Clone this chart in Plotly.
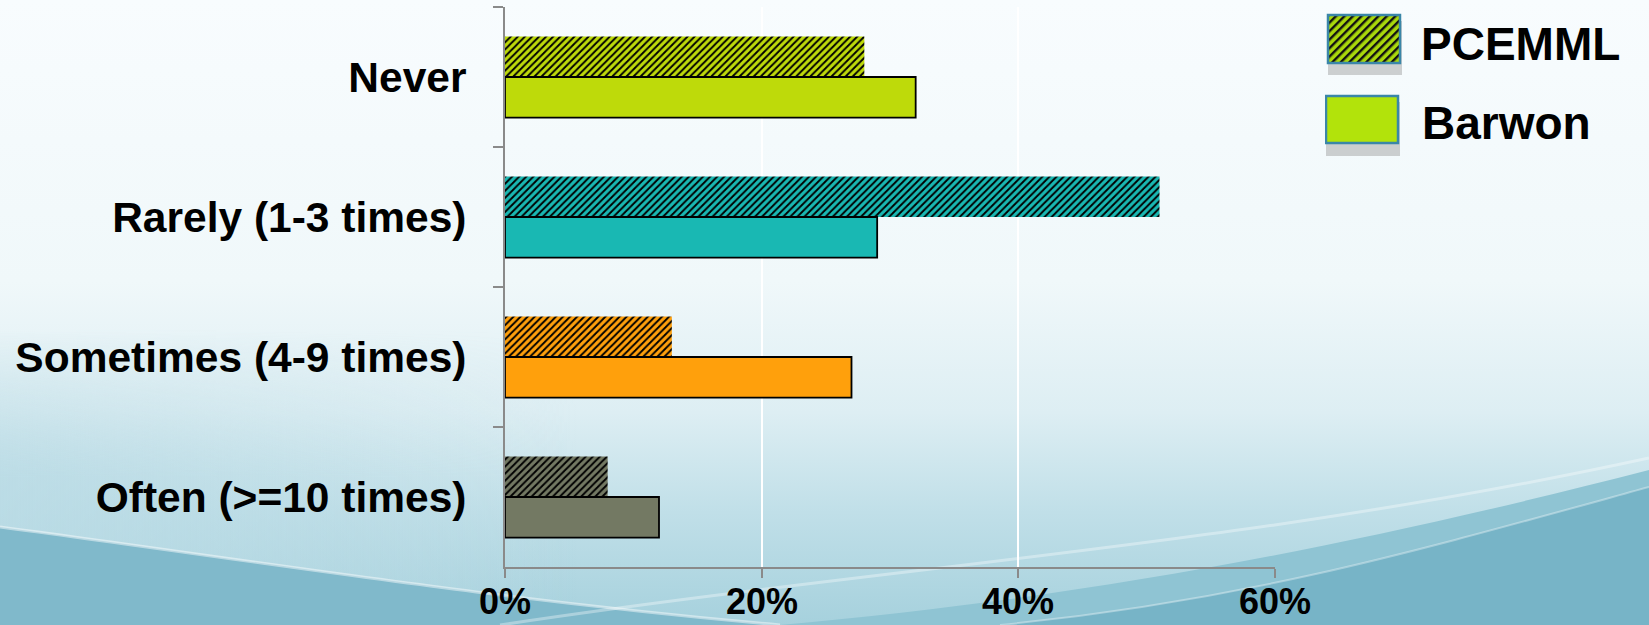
import base64
import plotly.graph_objects as go

# ---------------- data ----------------
categories = ["Never", "Rarely (1-3 times)", "Sometimes (4-9 times)", "Often (>=10 times)"]
pcemml = [28, 51, 13, 8]
barwon = [32, 29, 27, 12]
cat_colors = ["#BEDA0A", "#19B8B3", "#FFA00C", "#737963"]
series_names = ["PCEMML", "Barwon"]
x_ticks = [0, 20, 40, 60]
x_tick_text = ["0%", "20%", "40%", "60%"]

# ---------------- geometry ----------------
W, H = 1649, 625
L, R, T, B = 505, 374, 7, 58
PW, PH = W - L - R, H - T - B


def px(xp):
    return (xp - L) / PW


def py(yp):
    return 1 - (yp - T) / PH


def svg_uri(svg):
    return "data:image/svg+xml;base64," + base64.b64encode(svg.encode()).decode()


bg_svg = f'''<svg xmlns="http://www.w3.org/2000/svg" width="{W}" height="{H}" viewBox="0 0 {W} {H}">
<defs>
<linearGradient id="g" x1="0" y1="0" x2="0" y2="1">
<stop offset="0" stop-color="#F8FCFE"/>
<stop offset="0.45" stop-color="#F0F8FA"/>
<stop offset="0.66" stop-color="#DDEEF3"/>
<stop offset="0.82" stop-color="#C0DFE8"/>
<stop offset="1" stop-color="#A6D1DD"/>
</linearGradient>
<linearGradient id="lg" x1="0" y1="0" x2="1" y2="0">
<stop offset="0" stop-color="#B8DAE4" stop-opacity="0.8"/>
<stop offset="0.35" stop-color="#B8DAE4" stop-opacity="0"/>
</linearGradient>
<mask id="m"><rect x="0" y="330" width="{W}" height="295" fill="url(#vm)"/></mask>
<linearGradient id="vm" x1="0" y1="0" x2="0" y2="1">
<stop offset="0" stop-color="#000000"/>
<stop offset="0.5" stop-color="#FFFFFF"/>
</linearGradient>
<filter id="sh" x="-10%" y="-30%" width="130%" height="180%">
<feGaussianBlur stdDeviation="3"/>
</filter>
</defs>
<rect width="{W}" height="{H}" fill="url(#g)"/>
<rect x="0" y="330" width="{W}" height="295" fill="url(#lg)" mask="url(#m)"/>
<path d="M0,527 C250,560 480,598 780,625 L0,625 Z" fill="#80B9CB"/>
<path d="M780,625 C1050,600 1300,560 1649,470 L1649,625 Z" fill="#8FC4D3"/>
<path d="M1000,625 C1250,600 1420,550 1649,487 L1649,625 Z" fill="#77B4C7"/>
<path d="M0,527 C250,560 480,598 780,625" stroke="#FFFFFF" stroke-opacity="0.45" stroke-width="3" fill="none"/>
<path d="M500,625 C900,565 1250,545 1649,458" stroke="#FFFFFF" stroke-opacity="0.35" stroke-width="3" fill="none"/>
<path d="M1000,625 C1250,600 1420,550 1649,487" stroke="#FFFFFF" stroke-opacity="0.35" stroke-width="2" fill="none"/>
</svg>'''

legend_svg = '''<svg xmlns="http://www.w3.org/2000/svg" width="120" height="160" viewBox="0 0 120 160">
<defs>
<pattern id="p" width="6" height="6" patternUnits="userSpaceOnUse" patternTransform="rotate(45)">
<rect width="6" height="6" fill="#A9D80B"/><rect width="2.4" height="6" fill="#111"/>
</pattern>
</defs>
<rect x="3" y="21" width="74" height="54" fill="#9A9A9A" opacity="0.45"/>
<rect x="3" y="15" width="72" height="48" fill="url(#p)" stroke="#3A86A8" stroke-width="2.5"/>
<rect x="1" y="102" width="74" height="54" fill="#9A9A9A" opacity="0.45"/>
<rect x="1" y="96" width="72" height="47" fill="#B2E30B" stroke="#3A86A8" stroke-width="2.5"/>
</svg>'''

fig = go.Figure()
fig.add_trace(go.Bar(
    name=series_names[0], y=categories, x=pcemml, orientation="h",
    marker=dict(color="#000000", line=dict(width=0),
                pattern=dict(shape="/", fgcolor="#000000", bgcolor=cat_colors, fgopacity=1,
                             size=5, solidity=0.38, fillmode="replace")),
    showlegend=False,
))
fig.add_trace(go.Bar(
    name=series_names[1], y=categories, x=barwon, orientation="h",
    marker=dict(color=cat_colors, line=dict(width=1.8, color="#000000")),
    showlegend=False,
))

font_fam = "Liberation Sans, Arial, sans-serif"

annotations = [
    dict(text=series_names[0], xref="paper", yref="paper", x=px(1419), y=py(44),
         xanchor="left", yanchor="middle", showarrow=False,
         font=dict(size=46, family=font_fam, weight="bold", color="#000000")),
    dict(text=series_names[1], xref="paper", yref="paper", x=px(1420), y=py(123),
         xanchor="left", yanchor="middle", showarrow=False,
         font=dict(size=46, family=font_fam, weight="bold", color="#000000")),
]
for v, t in zip(x_ticks, x_tick_text):
    annotations.append(dict(
        text=t, xref="x", yref="paper", x=v, y=py(624), xanchor="center", yanchor="bottom",
        showarrow=False, font=dict(size=36, family=font_fam, weight="bold", color="#000000")))

fig.update_layout(
    width=W, height=H,
    margin=dict(l=L, r=R, t=T, b=B, pad=0, autoexpand=False),
    barmode="group", bargap=0.42, bargroupgap=0,
    plot_bgcolor="#D9D9D9", paper_bgcolor="#FFFFFF",
    font=dict(family=font_fam, color="#000000"),
    xaxis=dict(
        range=[0, 60], tickmode="array", tickvals=x_ticks, showticklabels=False,
        showgrid=True, gridcolor="#FFFFFF", gridwidth=2, zeroline=False,
        showline=True, linecolor="#8A8A8A", linewidth=2,
        ticks="outside", ticklen=9, tickwidth=2, tickcolor="#8A8A8A",
        automargin=False,
    ),
    yaxis=dict(
        type="category", autorange="reversed", tickson="boundaries",
        showgrid=False, zeroline=False,
        showline=True, linecolor="#8A8A8A", linewidth=2,
        ticks="outside", ticklen=10, tickwidth=2, tickcolor="#8A8A8A",
        tickfont=dict(size=42.5, family=font_fam, weight="bold"),
        ticklabelstandoff=28, automargin=False,
    ),
    images=[
        dict(source=svg_uri(bg_svg), xref="paper", yref="paper",
             x=px(0), y=py(0), sizex=W / PW, sizey=H / PH,
             xanchor="left", yanchor="top", sizing="stretch", layer="below"),
        dict(source=svg_uri(legend_svg), xref="paper", yref="paper",
             x=px(1325), y=py(0), sizex=120 / PW, sizey=160 / PH,
             xanchor="left", yanchor="top", sizing="stretch", layer="above"),
    ],
    annotations=annotations,
)

fig.write_html("out.html")
